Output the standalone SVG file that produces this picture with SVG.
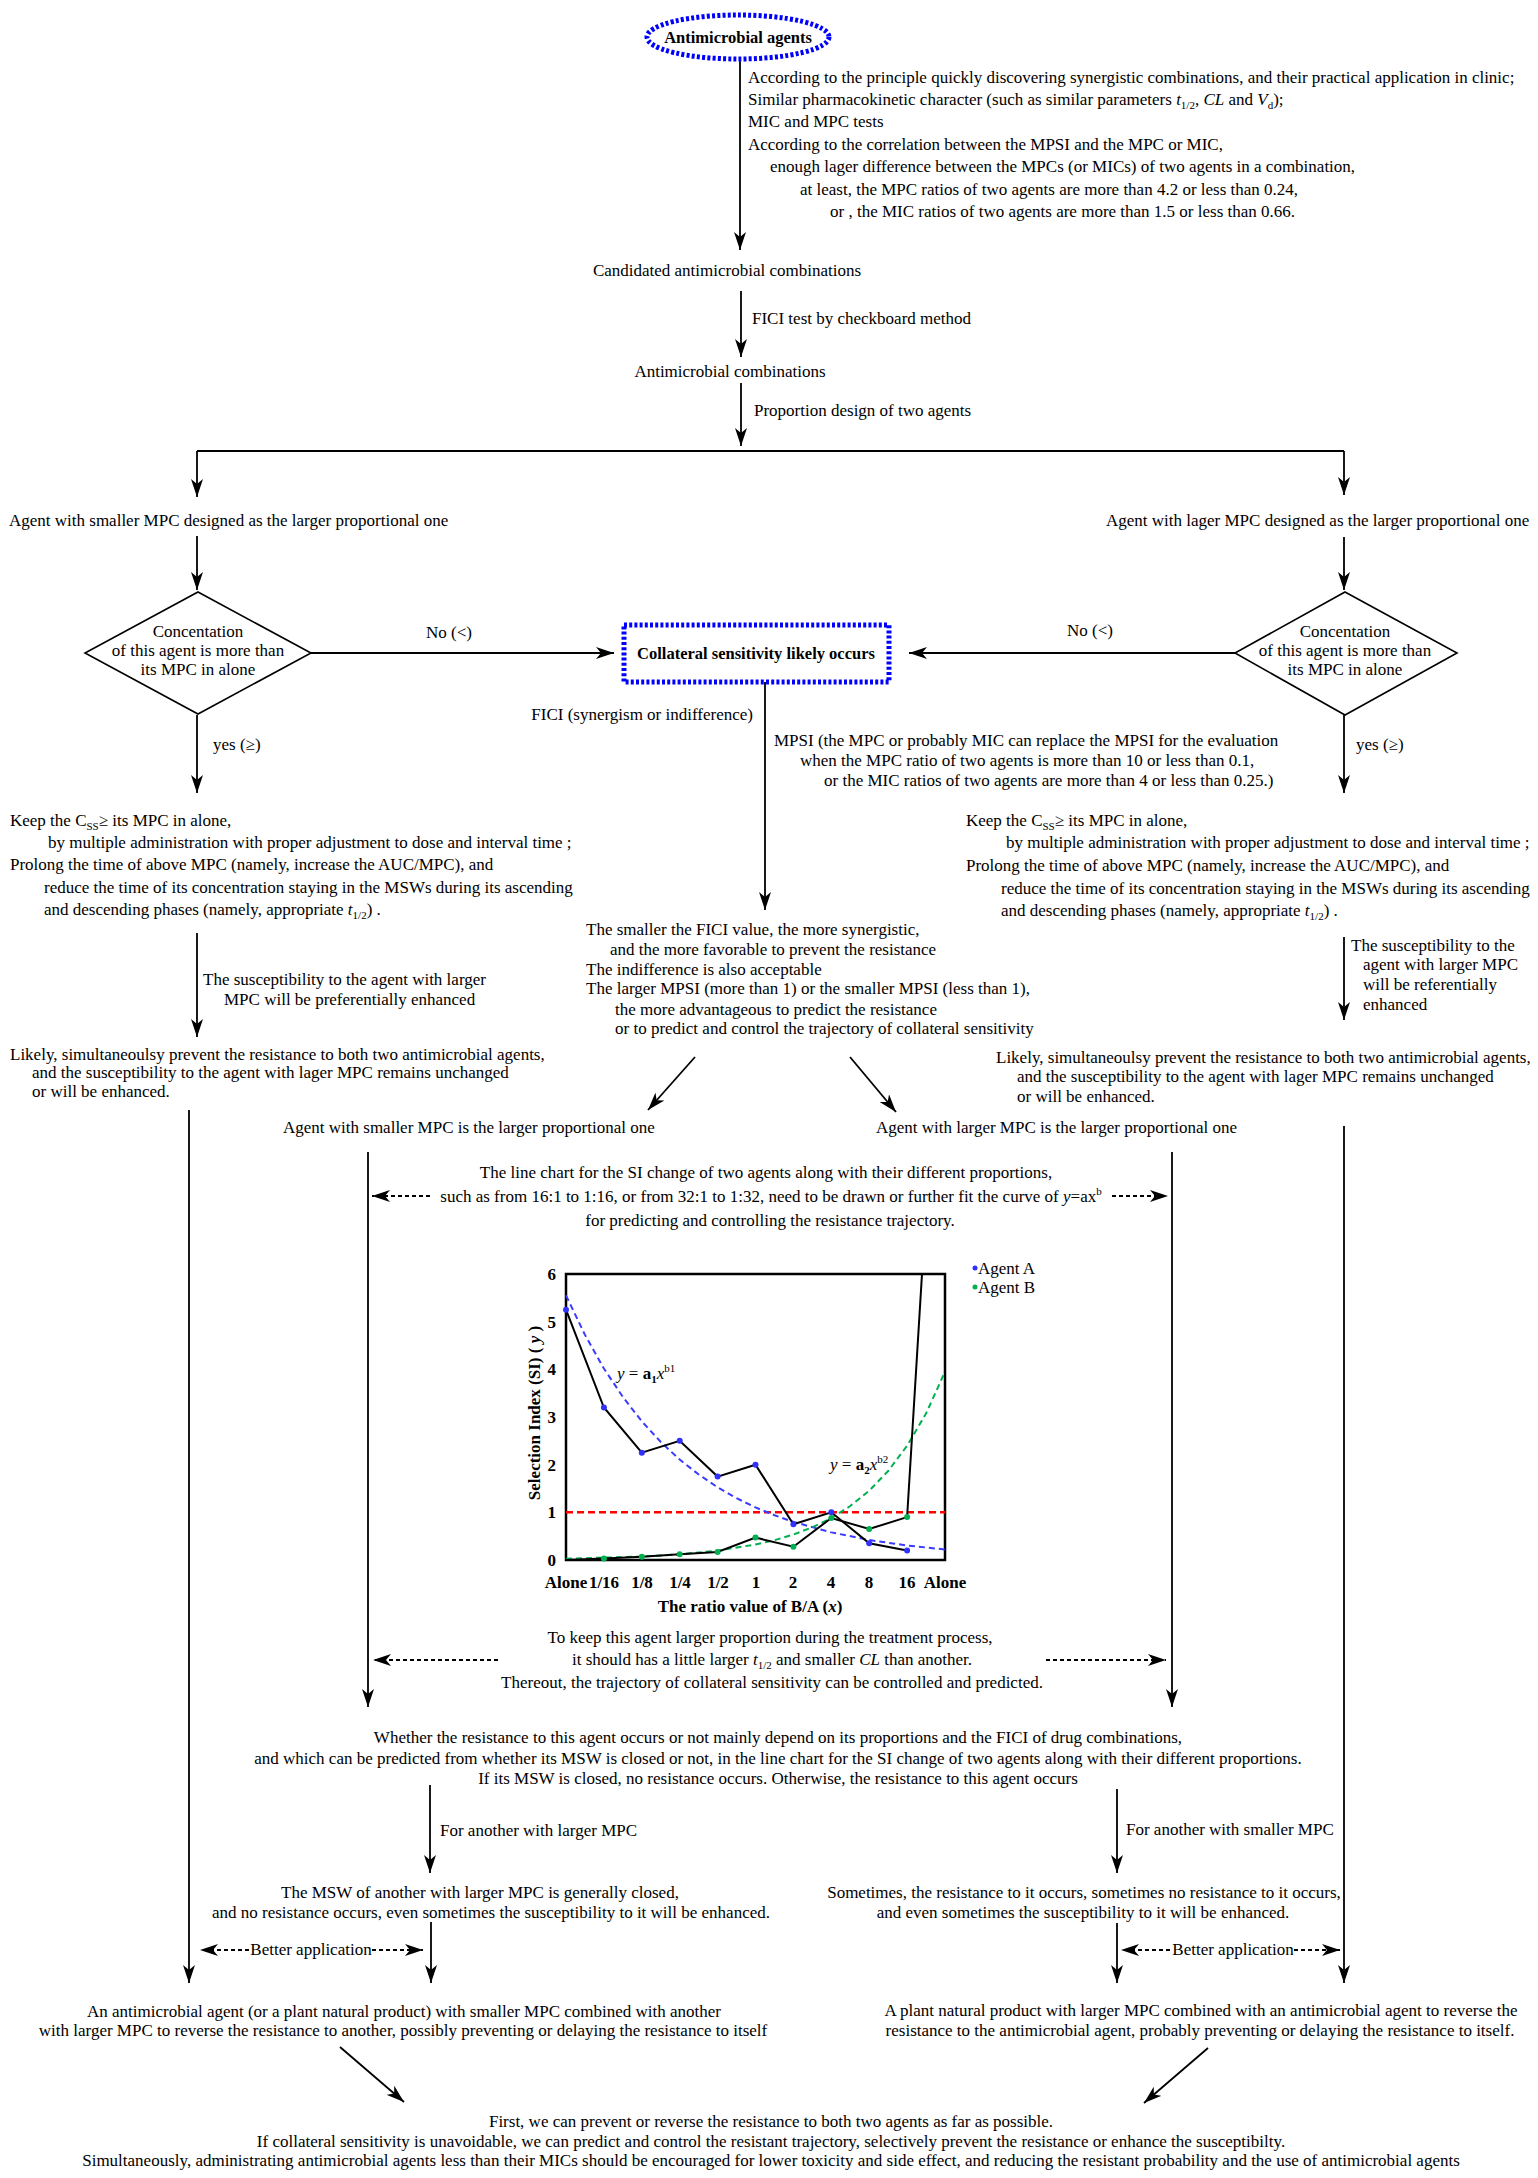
<svg xmlns="http://www.w3.org/2000/svg" width="1538" height="2178" viewBox="0 0 1538 2178" xml:space="preserve">
<style>
text{font-family:"Liberation Serif","Times New Roman",serif;font-size:17px;fill:#000}
.b{font-weight:bold}
.m{text-anchor:middle}
.e{text-anchor:end}
.i{font-style:italic}
.sub{font-size:11px}
.ln{stroke:#000;stroke-width:1.8;fill:none}
.ar{marker-end:url(#ah)}
.ds{stroke-dasharray:4 3}
.blue{fill:none;stroke:#0000ff;stroke-width:5;stroke-dasharray:3 2.2}
.dia{fill:#fff;stroke:#000;stroke-width:1.6}
.ca{fill:#3030ff}
.cb{fill:#00b050}
</style>
<defs>
<marker id="ah" markerUnits="userSpaceOnUse" markerWidth="20" markerHeight="12" refX="18" refY="6" orient="auto"><path d="M0,0 L18,6 L0,12 L5,6 Z" fill="#000"/></marker>
</defs>
<rect width="1538" height="2178" fill="#fff"/>

<g id="connectors">
<path class="ln ar" d="M740,60 V250"/>
<path class="ln ar" d="M741,291 V357"/>
<path class="ln ar" d="M741,383 V446"/>
<path class="ln" d="M197,451 H1344"/>
<path class="ln ar" d="M197,451 V497"/>
<path class="ln ar" d="M1344,451 V495"/>
<path class="ln ar" d="M197,536 V590"/>
<path class="ln ar" d="M1344,537 V590"/>
<path class="ln ar" d="M311,653 H614"/>
<path class="ln ar" d="M1235,653 H909"/>
<path class="ln ar" d="M197,715 V793"/>
<path class="ln ar" d="M1344,715 V793"/>
<path class="ln ar" d="M765,682 V910"/>
<path class="ln ar" d="M197,933 V1037"/>
<path class="ln ar" d="M1344,937 V1020"/>
<path class="ln ar" d="M695,1057 L648,1110"/>
<path class="ln ar" d="M850,1057 L896,1112"/>
<path class="ln ar" d="M189,1110 V1983"/>
<path class="ln ar" d="M1344,1126 V1983"/>
<path class="ln ar" d="M368,1152 V1707"/>
<path class="ln ar" d="M1172,1152 V1707"/>
<path class="ln ds ar" d="M430,1196 H372"/>
<path class="ln ds ar" d="M1112,1196 H1168"/>
<path class="ln ds ar" d="M498,1660 H373"/>
<path class="ln ds ar" d="M1046,1660 H1166"/>
<path class="ln ar" d="M430,1785 V1873"/>
<path class="ln ar" d="M1117,1789 V1873"/>
<path class="ln ar" d="M431,1922 V1983"/>
<path class="ln ar" d="M1117,1923 V1983"/>
<path class="ln ds ar" d="M249,1950 H200"/>
<path class="ln ds ar" d="M372,1950 H423"/>
<path class="ln ds ar" d="M1170,1950 H1121"/>
<path class="ln ds ar" d="M1294,1950 H1340"/>
<path class="ln ar" d="M340,2047 L404,2102"/>
<path class="ln ar" d="M1208,2048 L1144,2103"/>
</g>

<g id="n-start">
<ellipse class="blue" cx="738" cy="37" rx="91" ry="22"/>
<text class="b m" x="738" y="43" style="font-size:16.5px">Antimicrobial agents</text>
</g>

<g id="n-criteria">
<text x="748" y="83">According to the principle quickly discovering synergistic combinations, and their practical application in clinic;</text>
<text x="748" y="105">Similar pharmacokinetic character (such as similar parameters <tspan class="i">t</tspan><tspan class="sub" dy="4">1/2</tspan><tspan dy="-4">, </tspan><tspan class="i">CL</tspan> and <tspan class="i">V</tspan><tspan class="sub" dy="4">d</tspan><tspan dy="-4">);</tspan></text>
<text x="748" y="127">MIC and MPC tests</text>
<text x="748" y="150">According to the correlation between the MPSI and the MPC or MIC,</text>
<text x="770" y="172">enough lager difference between the MPCs (or MICs) of two agents in a combination,</text>
<text x="800" y="195">at least, the MPC ratios of two agents are more than 4.2 or less than 0.24,</text>
<text x="830" y="217">or , the MIC ratios of two agents are more than 1.5 or less than 0.66.</text>
</g>

<g id="n-candidated">
<text class="m" x="727" y="276">Candidated antimicrobial combinations</text>
<text x="752" y="324">FICI test by checkboard method</text>
</g>

<g id="n-combinations">
<text class="m" x="730" y="377">Antimicrobial combinations</text>
<text x="754" y="416">Proportion design of two agents</text>
</g>

<g id="n-left-agent">
<text x="9" y="526">Agent with smaller MPC designed as the larger proportional one</text>
</g>
<g id="n-right-agent">
<text x="1106" y="526">Agent with lager MPC designed as the larger proportional one</text>
</g>

<g id="n-left-diamond">
<polygon class="dia" points="198,592 311,653 198,714 85,653"/>
<text class="m" x="198" y="637">Concentation</text>
<text class="m" x="198" y="656">of this agent is more than</text>
<text class="m" x="198" y="675">its MPC in alone</text>
</g>
<g id="n-right-diamond">
<polygon class="dia" points="1345,592 1457,653 1345,715 1235,653"/>
<text class="m" x="1345" y="637">Concentation</text>
<text class="m" x="1345" y="656">of this agent is more than</text>
<text class="m" x="1345" y="675">its MPC in alone</text>
</g>

<g id="n-collateral">
<rect class="blue" x="624" y="625" width="265" height="57"/>
<text class="b m" x="756" y="659" style="font-size:16.5px">Collateral sensitivity likely occurs</text>
</g>

<g id="labels">
<text class="m" x="449" y="638">No (&lt;)</text>
<text class="m" x="1090" y="636">No (&lt;)</text>
<text x="213" y="750">yes (≥)</text>
<text x="1356" y="750">yes (≥)</text>
<text class="e" x="753" y="720">FICI (synergism or indifference)</text>
<text x="774" y="746">MPSI (the MPC or probably MIC can replace the MPSI for the evaluation</text>
<text x="800" y="766">when the MPC ratio of two agents is more than 10 or less than 0.1,</text>
<text x="824" y="786">or the MIC ratios of two agents are more than 4 or less than 0.25.)</text>
<text x="203" y="985">The susceptibility to the agent with larger</text>
<text x="224" y="1005">MPC will be preferentially enhanced</text>
<text x="1351" y="951">The susceptibility to the</text>
<text x="1363" y="970">agent with larger MPC</text>
<text x="1363" y="990">will be referentially</text>
<text x="1363" y="1010">enhanced</text>
<text x="440" y="1836">For another with larger MPC</text>
<text x="1126" y="1835">For another with smaller MPC</text>
<text class="m" x="311" y="1955">Better application</text>
<text class="m" x="1233" y="1955">Better application</text>
</g>

<g id="n-left-keep">
<text x="10" y="826">Keep the C<tspan class="sub" dy="4">SS</tspan><tspan dy="-4">≥  its MPC in alone,</tspan></text>
<text x="48" y="848">by multiple administration with proper adjustment to dose and interval time ;</text>
<text x="10" y="870">Prolong the time of above MPC (namely, increase the AUC/MPC), and</text>
<text x="44" y="893">reduce the time of its concentration staying in the MSWs during its ascending</text>
<text x="44" y="915">and descending phases (namely, appropriate <tspan class="i">t</tspan><tspan class="sub" dy="4">1/2</tspan><tspan dy="-4">) .</tspan></text>
</g>
<g id="n-right-keep">
<text x="966" y="826">Keep the C<tspan class="sub" dy="4">SS</tspan><tspan dy="-4">≥ its MPC in alone,</tspan></text>
<text x="1006" y="848">by multiple administration with proper adjustment to dose and interval time ;</text>
<text x="966" y="871">Prolong the time of above MPC (namely,  increase the AUC/MPC), and</text>
<text x="1001" y="894">reduce the time of its concentration staying in the MSWs during its ascending</text>
<text x="1001" y="916">and descending phases (namely, appropriate <tspan class="i">t</tspan><tspan class="sub" dy="4">1/2</tspan><tspan dy="-4">) .</tspan></text>
</g>

<g id="n-mid-fici">
<text x="586" y="935">The smaller the FICI value, the more synergistic,</text>
<text x="610" y="955">and the more favorable to prevent the resistance</text>
<text x="586" y="975">The indifference is also acceptable</text>
<text x="586" y="994">The larger MPSI (more than 1) or the smaller MPSI (less than 1),</text>
<text x="615" y="1015">the more advantageous to predict the resistance</text>
<text x="615" y="1034">or to predict and control the trajectory of collateral sensitivity</text>
</g>

<g id="n-left-likely">
<text x="10" y="1060">Likely, simultaneoulsy prevent the resistance to both two antimicrobial agents,</text>
<text x="32" y="1078">and the susceptibility to the agent with lager MPC remains unchanged</text>
<text x="32" y="1097">or will be enhanced.</text>
</g>
<g id="n-right-likely">
<text x="996" y="1063">Likely, simultaneoulsy prevent the resistance to both two antimicrobial agents,</text>
<text x="1017" y="1082">and the susceptibility to the agent with lager MPC remains unchanged</text>
<text x="1017" y="1102">or will be enhanced.</text>
</g>

<g id="n-smaller-prop">
<text x="283" y="1133">Agent with smaller MPC is the larger proportional one</text>
</g>
<g id="n-larger-prop">
<text x="876" y="1133">Agent with larger MPC is the larger proportional one</text>
</g>

<g id="n-linechart-note">
<text class="m" x="766" y="1178">The line chart for the SI change of two agents along with their different proportions,</text>
<text class="m" x="771" y="1202">such as from 16:1 to 1:16, or from 32:1 to 1:32, need to be drawn or further fit the curve of <tspan class="i">y</tspan>=ax<tspan class="sub" dy="-7">b</tspan></text>
<text class="m" x="770" y="1226">for predicting and controlling the resistance trajectory.</text>
</g>

<g id="n-chart">
<rect x="566" y="1274" width="379" height="286" fill="none" stroke="#000" stroke-width="2.5"/>
<path d="M566,1512.3 H945" stroke="#ff0000" stroke-width="2.5" stroke-dasharray="7 4" fill="none"/>
<polyline fill="none" stroke="#3b3bff" stroke-width="2" stroke-dasharray="6 4" points="566,1295.4 585,1334.9 603.9,1368.5 622.9,1397 641.8,1421.3 660.8,1442 679.7,1459.6 698.7,1474.5 717.6,1487.3 736.6,1498.2 755.5,1507.4 774.5,1515.2 793.4,1521.9 831.3,1532.4 869.2,1540 907.1,1545.5 945,1549.5"/>
<polyline fill="none" stroke="#00b050" stroke-width="2" stroke-dasharray="6 4" points="566,1558.7 641.8,1556.6 679.7,1554.3 717.6,1550.6 755.5,1544.5 774.5,1540.2 793.4,1534.5 812.4,1527.3 831.3,1518 850.3,1506 869.2,1490.7 888.2,1471 907.1,1445.8 926.1,1413.4 945,1371.7"/>
<polyline fill="none" stroke="#000" stroke-width="2" points="566,1309.7 603.9,1407.5 641.8,1452.7 679.7,1440.8 717.6,1476.6 755.5,1464.7 793.4,1524.2 831.3,1512.3 869.2,1543.3 907.1,1550.5"/>
<polyline fill="none" stroke="#000" stroke-width="2" points="566,1560 603.9,1558.6 641.8,1556.7 679.7,1554.3 717.6,1551.9 755.5,1537.6 793.4,1546.7 831.3,1518 869.2,1529 907.1,1517.1 922,1274"/>
<g class="ca">
<circle cx="566" cy="1309.7" r="3"/><circle cx="603.9" cy="1407.5" r="3"/><circle cx="641.8" cy="1452.7" r="3"/><circle cx="679.7" cy="1440.8" r="3"/><circle cx="717.6" cy="1476.6" r="3"/><circle cx="755.5" cy="1464.7" r="3"/><circle cx="793.4" cy="1524.2" r="3"/><circle cx="831.3" cy="1512.3" r="3"/><circle cx="869.2" cy="1543.3" r="3"/><circle cx="907.1" cy="1550.5" r="3"/>
</g>
<g class="cb">
<circle cx="603.9" cy="1558.6" r="3"/><circle cx="641.8" cy="1556.7" r="3"/><circle cx="679.7" cy="1554.3" r="3"/><circle cx="717.6" cy="1551.9" r="3"/><circle cx="755.5" cy="1537.6" r="3"/><circle cx="793.4" cy="1546.7" r="3"/><circle cx="831.3" cy="1518" r="3"/><circle cx="869.2" cy="1529" r="3"/><circle cx="907.1" cy="1517.1" r="3"/>
</g>
<g class="b">
<text class="e" x="556" y="1566">0</text>
<text class="e" x="556" y="1518">1</text>
<text class="e" x="556" y="1471">2</text>
<text class="e" x="556" y="1423">3</text>
<text class="e" x="556" y="1375">4</text>
<text class="e" x="556" y="1328">5</text>
<text class="e" x="556" y="1280">6</text>
<text class="m" x="566" y="1588">Alone</text>
<text class="m" x="604" y="1588">1/16</text>
<text class="m" x="642" y="1588">1/8</text>
<text class="m" x="680" y="1588">1/4</text>
<text class="m" x="718" y="1588">1/2</text>
<text class="m" x="756" y="1588">1</text>
<text class="m" x="793" y="1588">2</text>
<text class="m" x="831" y="1588">4</text>
<text class="m" x="869" y="1588">8</text>
<text class="m" x="907" y="1588">16</text>
<text class="m" x="945" y="1588">Alone</text>
<text class="m" x="750" y="1612">The ratio value of B/A (<tspan class="i">x</tspan>)</text>
<text class="m" transform="translate(540,1413) rotate(-90)">Selection Index (SI) ( <tspan class="i">y</tspan> )</text>
</g>
<text x="617" y="1379"><tspan class="i">y</tspan> = <tspan class="b">a</tspan><tspan class="sub b" dy="4">1</tspan><tspan class="i" dy="-4">x</tspan><tspan class="sub" dy="-7">b1</tspan></text>
<text x="830" y="1470"><tspan class="i">y</tspan> = <tspan class="b">a</tspan><tspan class="sub b" dy="4">2</tspan><tspan class="i" dy="-4">x</tspan><tspan class="sub" dy="-7">b2</tspan></text>
<circle class="ca" cx="975" cy="1268" r="2.5"/>
<text x="978" y="1274">Agent A</text>
<circle class="cb" cx="975" cy="1287" r="2.5"/>
<text x="978" y="1293">Agent B</text>
</g>

<g id="n-keep-proportion">
<text class="m" x="770" y="1643">To keep this agent larger proportion during the treatment process,</text>
<text class="m" x="772" y="1665">it should has  a little larger <tspan class="i">t</tspan><tspan class="sub" dy="4">1/2</tspan><tspan dy="-4"> and smaller </tspan><tspan class="i">CL</tspan> than another.</text>
<text class="m" x="772" y="1688">Thereout, the trajectory of collateral sensitivity can be controlled and predicted.</text>
</g>

<g id="n-whether">
<text class="m" x="778" y="1743">Whether the resistance to this agent occurs or not  mainly depend on its proportions and the FICI of drug combinations,</text>
<text class="m" x="778" y="1764">and which can be predicted from whether its MSW is closed or not, in the line chart for the SI change of two agents along with their different proportions.</text>
<text class="m" x="778" y="1784">If its MSW is closed, no resistance occurs. Otherwise, the resistance to this agent occurs</text>
</g>

<g id="n-msw-closed">
<text class="m" x="480" y="1898">The MSW of another with larger MPC is generally closed,</text>
<text class="m" x="491" y="1918">and no resistance occurs, even sometimes the susceptibility to it will be enhanced.</text>
</g>
<g id="n-sometimes">
<text class="m" x="1084" y="1898">Sometimes, the resistance to it occurs, sometimes  no resistance to it occurs,</text>
<text class="m" x="1083" y="1918">and  even sometimes the susceptibility to it will be enhanced.</text>
</g>

<g id="n-left-bottom">
<text class="m" x="404" y="2017">An antimicrobial agent (or a plant natural product) with smaller MPC combined with another</text>
<text class="m" x="403" y="2036">with larger MPC to reverse the resistance to another, possibly preventing or delaying the resistance to itself</text>
</g>
<g id="n-right-bottom">
<text class="m" x="1201" y="2016">A plant natural product with larger MPC combined with an antimicrobial agent to reverse the</text>
<text class="m" x="1200" y="2036">resistance to the antimicrobial agent, probably preventing or delaying the resistance to itself.</text>
</g>

<g id="n-final">
<text class="m" x="771" y="2127">First, we can prevent or reverse the resistance to both two agents as far as possible.</text>
<text class="m" x="771" y="2147">If collateral sensitivity is unavoidable, we can predict and control the resistant trajectory, selectively prevent the resistance or enhance the susceptibilty.</text>
<text class="m" x="771" y="2166">Simultaneously, administrating antimicrobial agents less than their MICs should be encouraged for lower toxicity and side effect, and reducing the resistant probability and the use of antimicrobial agents</text>
</g>
</svg>
